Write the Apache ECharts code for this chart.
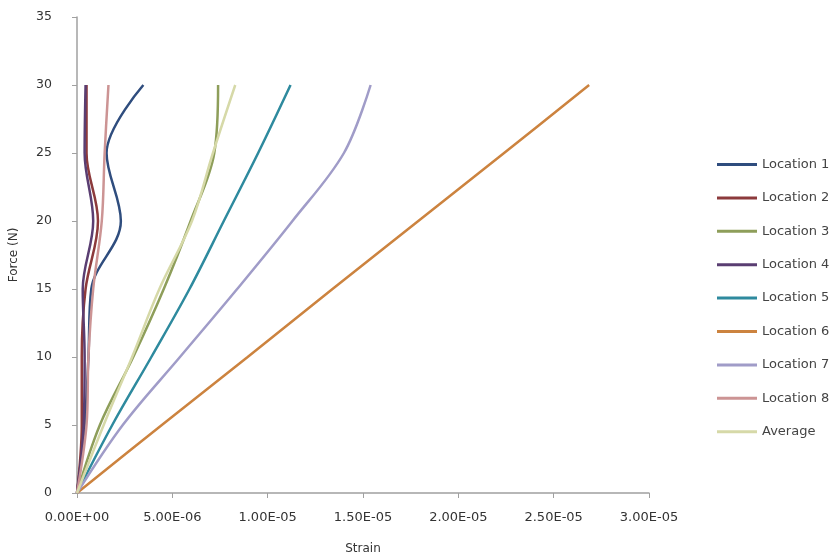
<!DOCTYPE html>
<html>
<head>
<meta charset="utf-8">
<script src="https://cdn.jsdelivr.net/npm/echarts@6/dist/echarts.min.js"></script>
<style>html,body{margin:0;padding:0;background:#fff}#c{width:837px;height:560px}</style>
</head>
<body>
<div id="c"></div>
<script>
var force = [0, 5, 10, 15, 20, 25, 30];
var location1 = [0, 0.40e-6, 0.60e-6, 0.75e-6, 2.30e-6, 1.55e-6, 3.48e-6];
var location2 = [0, 0.25e-6, 0.25e-6, 0.45e-6, 1.10e-6, 0.50e-6, 0.50e-6];
var location3 = [0, 1.20e-6, 2.95e-6, 4.55e-6, 5.96e-6, 7.20e-6, 7.40e-6];
var location4 = [0, 0.35e-6, 0.40e-6, 0.30e-6, 0.85e-6, 0.40e-6, 0.45e-6];
var location5 = [0, 1.85e-6, 3.90e-6, 5.90e-6, 7.70e-6, 9.50e-6, 11.20e-6];
var location6 = [0, 4.45e-6, 8.95e-6, 13.40e-6, 17.90e-6, 22.40e-6, 26.86e-6];
var location7 = [0, 2.40e-6, 5.40e-6, 8.40e-6, 11.30e-6, 14.00e-6, 15.40e-6];
var location8 = [0, 0.50e-6, 0.60e-6, 0.85e-6, 1.30e-6, 1.45e-6, 1.65e-6];
var average   = [0, 1.40e-6, 2.89e-6, 4.32e-6, 6.03e-6, 7.13e-6, 8.30e-6];
var seriesNames = ['Location 1','Location 2','Location 3','Location 4','Location 5','Location 6','Location 7','Location 8','Average'];
var seriesColors = ['#2F4D7E','#8C3A3C','#8E9E5A','#5A3E72','#2E8A9E','#CC833F','#A09CC8','#CC9494','#D6D9A8'];
var allValues = [location1, location2, location3, location4, location5, location6, location7, location8, average];

function fmtExp(v) {
  var s = Number(v).toExponential(2).toUpperCase();
  return s.replace(/E([+-])(\d+)$/, function (m, sign, d) {
    return 'E' + sign + (d.length < 2 ? '0' + d : d);
  });
}

var series = seriesNames.map(function (name, k) {
  return {
    name: name,
    type: 'line',
    smooth: 0.35,
    symbol: 'none',
    lineStyle: { width: 2.5, color: seriesColors[k] },
    itemStyle: { color: seriesColors[k] },
    data: force.map(function (f, i) { return [allValues[k][i], f]; })
  };
});

var chart = echarts.init(document.getElementById('c'), null, { renderer: 'canvas' });
var textStyle = { fontFamily: 'DejaVu Sans', fontSize: 12, color: '#333' };
chart.setOption({
  animation: false,
  backgroundColor: '#fff',
  grid: { left: 75, right: 188, top: 17, bottom: 58 },
  legend: {
    orient: 'vertical',
    left: 712,
    top: 153,
    icon: 'rect',
    itemWidth: 40,
    itemHeight: 3,
    itemGap: 20.4,
    textStyle: { fontFamily: 'DejaVu Sans', fontSize: 13, color: '#444' },
    data: seriesNames
  },
  xAxis: {
    type: 'value',
    min: 0,
    max: 3e-5,
    interval: 5e-6,
    name: 'Strain',
    nameLocation: 'middle',
    nameGap: 50,
    nameTextStyle: textStyle,
    axisLine: { lineStyle: { color: '#A0A0A0', width: 1.5 } },
    axisTick: { show: true, inside: false, length: 5, lineStyle: { color: '#A0A0A0' } },
    splitLine: { show: false },
    axisLabel: Object.assign({ margin: 18, formatter: fmtExp }, textStyle, { fontSize: 13 })
  },
  yAxis: {
    type: 'value',
    min: 0,
    max: 35,
    interval: 5,
    name: 'Force (N)',
    nameLocation: 'middle',
    nameGap: 57,
    nameRotate: 90,
    nameTextStyle: textStyle,
    axisLine: { show: true, lineStyle: { color: '#A0A0A0', width: 1.5 } },
    axisTick: { show: true, inside: false, length: 5, lineStyle: { color: '#A0A0A0' } },
    splitLine: { show: false },
    axisLabel: Object.assign({ margin: 25 }, textStyle, { fontSize: 12.5 })
  },
  series: series
});
</script>
</body>
</html>
